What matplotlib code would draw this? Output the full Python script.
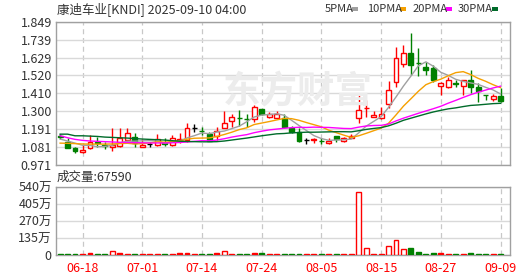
import matplotlib
matplotlib.use("Agg")
import matplotlib.pyplot as plt
from matplotlib.patches import Rectangle

plt.rcParams['font.family'] = ['Noto Sans CJK SC', 'DejaVu Sans']

dates = ["06-13", "06-16", "06-17", "06-18", "06-20", "06-23", "06-24", "06-25", "06-26", "06-27",
         "06-30", "07-01", "07-02", "07-03", "07-07", "07-08", "07-09", "07-10", "07-11", "07-14",
         "07-15", "07-16", "07-17", "07-18", "07-21", "07-22", "07-23", "07-24", "07-25", "07-28",
         "07-29", "07-30", "07-31", "08-01", "08-04", "08-05", "08-06", "08-07", "08-08", "08-11",
         "08-12", "08-13", "08-14", "08-15", "08-18", "08-19", "08-20", "08-21", "08-22", "08-25",
         "08-26", "08-27", "08-28", "08-29", "09-02", "09-03", "09-04", "09-05", "09-08", "09-09"]

opens = [1.150, 1.114, 1.073, 1.050, 1.077, 1.110, 1.095, 1.080, 1.089, 1.124,
         1.141, 1.083, 1.097, 1.093, 1.105, 1.093, 1.118, 1.124, 1.196, 1.180,
         1.159, 1.151, 1.196, 1.241, 1.259, 1.253, 1.251, 1.312, 1.265, 1.261,
         1.257, 1.199, 1.171, 1.124, 1.127, 1.118, 1.108, 1.149, 1.118, 1.138,
         1.257, 1.320, 1.267, 1.257, 1.343, 1.478, 1.589, 1.659, 1.597, 1.573,
         1.563, 1.457, 1.447, 1.473, 1.455, 1.492, 1.447, 1.401, 1.373, 1.393]
highs = [1.160, 1.134, 1.083, 1.093, 1.155, 1.144, 1.114, 1.196, 1.196, 1.196,
         1.166, 1.130, 1.113, 1.159, 1.135, 1.154, 1.169, 1.226, 1.222, 1.206,
         1.175, 1.206, 1.302, 1.282, 1.308, 1.282, 1.339, 1.315, 1.294, 1.302,
         1.282, 1.210, 1.199, 1.134, 1.138, 1.136, 1.138, 1.149, 1.144, 1.161,
         1.400, 1.369, 1.302, 1.328, 1.486, 1.696, 1.706, 1.782, 1.686, 1.604,
         1.584, 1.481, 1.510, 1.490, 1.492, 1.553, 1.471, 1.401, 1.406, 1.441]
lows = [1.128, 1.075, 1.046, 1.046, 1.067, 1.083, 1.071, 1.057, 1.080, 1.118,
        1.080, 1.080, 1.081, 1.087, 1.085, 1.090, 1.104, 1.113, 1.175, 1.155,
        1.118, 1.124, 1.196, 1.206, 1.212, 1.206, 1.236, 1.280, 1.262, 1.258,
        1.200, 1.170, 1.114, 1.098, 1.104, 1.100, 1.098, 1.110, 1.110, 1.138,
        1.226, 1.267, 1.265, 1.251, 1.322, 1.451, 1.574, 1.522, 1.516, 1.522,
        1.480, 1.400, 1.440, 1.448, 1.400, 1.410, 1.358, 1.370, 1.365, 1.358]
closes = [1.145, 1.077, 1.057, 1.060, 1.114, 1.108, 1.085, 1.093, 1.135, 1.165,
          1.108, 1.093, 1.097, 1.128, 1.100, 1.135, 1.128, 1.196, 1.196, 1.178,
          1.118, 1.179, 1.226, 1.267, 1.256, 1.250, 1.328, 1.282, 1.282, 1.282,
          1.206, 1.175, 1.121, 1.124, 1.130, 1.115, 1.118, 1.132, 1.135, 1.148,
          1.306, 1.323, 1.277, 1.282, 1.431, 1.629, 1.655, 1.584, 1.594, 1.553,
          1.492, 1.471, 1.492, 1.470, 1.492, 1.447, 1.424, 1.400, 1.393, 1.365]

ma5 = [1.130, 1.118, 1.105, 1.092, 1.091, 1.083, 1.085, 1.092, 1.107, 1.117,
       1.117, 1.119, 1.120, 1.118, 1.105, 1.111, 1.118, 1.137, 1.151, 1.167,
       1.163, 1.173, 1.179, 1.194, 1.209, 1.236, 1.265, 1.277, 1.280, 1.285,
       1.276, 1.245, 1.213, 1.182, 1.151, 1.133, 1.122, 1.124, 1.126, 1.130,
       1.168, 1.209, 1.238, 1.267, 1.324, 1.388, 1.455, 1.516, 1.579, 1.603,
       1.576, 1.539, 1.520, 1.496, 1.483, 1.474, 1.465, 1.447, 1.431, 1.406]
ma10 = [1.105, 1.104, 1.102, 1.100, 1.099, 1.099, 1.099, 1.100, 1.102, 1.104,
        1.100, 1.102, 1.106, 1.113, 1.111, 1.114, 1.118, 1.129, 1.135, 1.136,
        1.137, 1.146, 1.158, 1.172, 1.188, 1.199, 1.219, 1.228, 1.237, 1.247,
        1.256, 1.255, 1.245, 1.231, 1.218, 1.205, 1.184, 1.169, 1.154, 1.140,
        1.150, 1.165, 1.181, 1.197, 1.227, 1.278, 1.332, 1.377, 1.423, 1.463,
        1.482, 1.497, 1.518, 1.537, 1.543, 1.525, 1.502, 1.484, 1.463, 1.445]
ma20 = [1.150, 1.138, 1.128, 1.122, 1.118, 1.116, 1.114, 1.112, 1.110, 1.109,
        1.108, 1.107, 1.106, 1.106, 1.106, 1.107, 1.109, 1.112, 1.116, 1.120,
        1.119, 1.124, 1.132, 1.142, 1.150, 1.157, 1.169, 1.178, 1.186, 1.191,
        1.196, 1.200, 1.202, 1.201, 1.203, 1.202, 1.201, 1.198, 1.195, 1.194,
        1.203, 1.210, 1.213, 1.214, 1.222, 1.241, 1.258, 1.273, 1.288, 1.302,
        1.316, 1.331, 1.350, 1.367, 1.385, 1.402, 1.417, 1.430, 1.443, 1.454]
ma30 = [1.160, 1.160, 1.150, 1.150, 1.148, 1.146, 1.142, 1.140, 1.138, 1.136,
        1.133, 1.130, 1.128, 1.126, 1.124, 1.120, 1.117, 1.115, 1.114, 1.113,
        1.113, 1.114, 1.118, 1.124, 1.130, 1.136, 1.143, 1.150, 1.156, 1.162,
        1.164, 1.168, 1.170, 1.172, 1.172, 1.173, 1.174, 1.175, 1.175, 1.174,
        1.181, 1.189, 1.195, 1.200, 1.211, 1.227, 1.245, 1.258, 1.271, 1.284,
        1.296, 1.306, 1.315, 1.321, 1.329, 1.336, 1.339, 1.343, 1.347, 1.349]

# volume in 万 shares
volumes = [8, 10, 9, 10, 15, 8, 7, 32, 14, 8,
           7, 8, 5, 8, 6, 8, 12, 12, 6, 8,
           9, 12, 35, 10, 8, 8, 12, 14, 8, 8,
           9, 8, 10, 6, 7, 8, 7, 8, 7, 9,
           503, 53, 6, 8, 71, 119, 48, 53, 21, 8,
           13, 12, 8, 7, 9, 12, 8, 7, 8, 6.759]

price_ticks = [0.971, 1.081, 1.191, 1.300, 1.410, 1.520, 1.629, 1.739, 1.849]
vol_ticks = [0, 135, 270, 405, 540]
vol_tick_labels = ["0", "135万", "270万", "405万", "540万"]
date_tick_labels = ["06-18", "07-01", "07-14", "07-24", "08-05", "08-15", "08-27", "09-09"]
title_text = "康迪车业[KNDI] 2025-09-10 04:00"
volume_text = "成交量:67590"
ma_names = ["5PMA", "10PMA", "20PMA", "30PMA"]

RED = "#ff0000"
GREEN = "#008000"
ma_colors = ["#a0a0a0", "#f5a000", "#ff00ff", "#006b2a"]
GRID = "#d9d9d9"
FRAME = "#a0a0a0"
TXT = "#333333"

fig = plt.figure(figsize=(5.3, 2.76), dpi=100)
fig.patch.set_facecolor("white")
W, H = 530.0, 276.0
L, R = 56.0, 509.5
ax1 = fig.add_axes([L / W, 1 - 165 / H, (R - L) / W, (165 - 21.7) / H])
ax2 = fig.add_axes([L / W, 1 - 255 / H, (R - L) / W, (255 - 187) / H])

n = len(dates)
xs = list(range(n))
tick_pos = [dates.index(d) for d in date_tick_labels]
xlim = (-0.55, 60.2)

# watermark
fig.text(298 / W, 1 - 92 / H, "东方财富", fontsize=27, color="#ececec",
         ha="center", va="center", fontweight="bold", zorder=0)

# candles
bw = 0.66
for i in xs:
    o, h, l, c = opens[i], highs[i], lows[i], closes[i]
    if c > o:
        col = RED
    elif c < o:
        col = GREEN
    else:
        col = "black"
    ax1.vlines(i, l, h, color=col, lw=1.0, zorder=3)
    if c > o:
        ax1.bar(i, c - o, bottom=o, width=bw, facecolor="white", edgecolor=col, lw=1.0, zorder=4)
    elif c < o:
        ax1.bar(i, o - c, bottom=c, width=bw, facecolor=col, edgecolor=col, lw=1.0, zorder=4)
    else:
        ax1.hlines(c, i - bw / 2, i + bw / 2, color=col, lw=1.0, zorder=4)

for vals, col in zip([ma5, ma10, ma20, ma30], ma_colors):
    ax1.plot(xs, vals, color=col, lw=1.0, zorder=5)

ax1.set_xlim(*xlim)
ax1.set_ylim(price_ticks[0], price_ticks[-1])
ax1.set_yticks(price_ticks)
ax1.set_yticklabels([f"{t:.3f}" for t in price_ticks])
ax1.set_xticks(tick_pos)
ax1.set_xticklabels([])
ax1.tick_params(axis="both", length=0, labelsize=9, labelcolor=TXT, pad=3)
ax1.grid(axis="y", color=GRID, lw=1.0, ls="-", zorder=0)
ax1.grid(axis="x", color="#c8c8c8", lw=0.9, ls=(0, (4, 3)), zorder=0)
ax1.set_axisbelow(True)
ax1.patch.set_alpha(0)

# volume
for i in xs:
    up = closes[i] >= opens[i]
    col = RED if up else GREEN
    ax2.bar(i, volumes[i], width=bw, bottom=0,
            facecolor="white" if (up and volumes[i] > 20) else col,
            edgecolor=col, lw=1.0, zorder=3)
ax2.set_xlim(*xlim)
ax2.set_ylim(0, 540)
ax2.set_yticks(vol_ticks)
ax2.set_yticklabels(vol_tick_labels)
ax2.set_xticks(tick_pos)
ax2.set_xticklabels(date_tick_labels)
ax2.tick_params(axis="y", length=0, labelsize=9, labelcolor=TXT, pad=3)
ax2.tick_params(axis="x", length=0, labelsize=9, labelcolor=RED, pad=5)
ax2.grid(axis="y", color=GRID, lw=1.0, ls="-", zorder=0)
ax2.grid(axis="x", color="#c8c8c8", lw=0.9, ls=(0, (4, 3)), zorder=0)
ax2.set_axisbelow(True)

for ax in (ax1, ax2):
    for s in ax.spines.values():
        s.set_color(FRAME)
        s.set_linewidth(1.0)

# texts
fig.text(57 / W, 1 - 9 / H, title_text, fontsize=9, color=TXT, ha="left", va="center")
fig.text(57 / W, 1 - 177 / H, volume_text, fontsize=9, color=TXT, ha="left", va="center")

leg_x = [325, 367, 413, 458]
sw_x = [352, 400, 446, 492]
for name, lx, sx, col in zip(ma_names, leg_x, sw_x, ma_colors):
    fig.text(lx / W, 1 - 9 / H, name, fontsize=8, color=TXT, ha="left", va="center")
    fig.patches.append(Rectangle((sx / W, 1 - 10.5 / H), 6 / W, 3 / H,
                                 transform=fig.transFigure, facecolor=col,
                                 edgecolor="none"))

fig.savefig("out.png", dpi=100)
